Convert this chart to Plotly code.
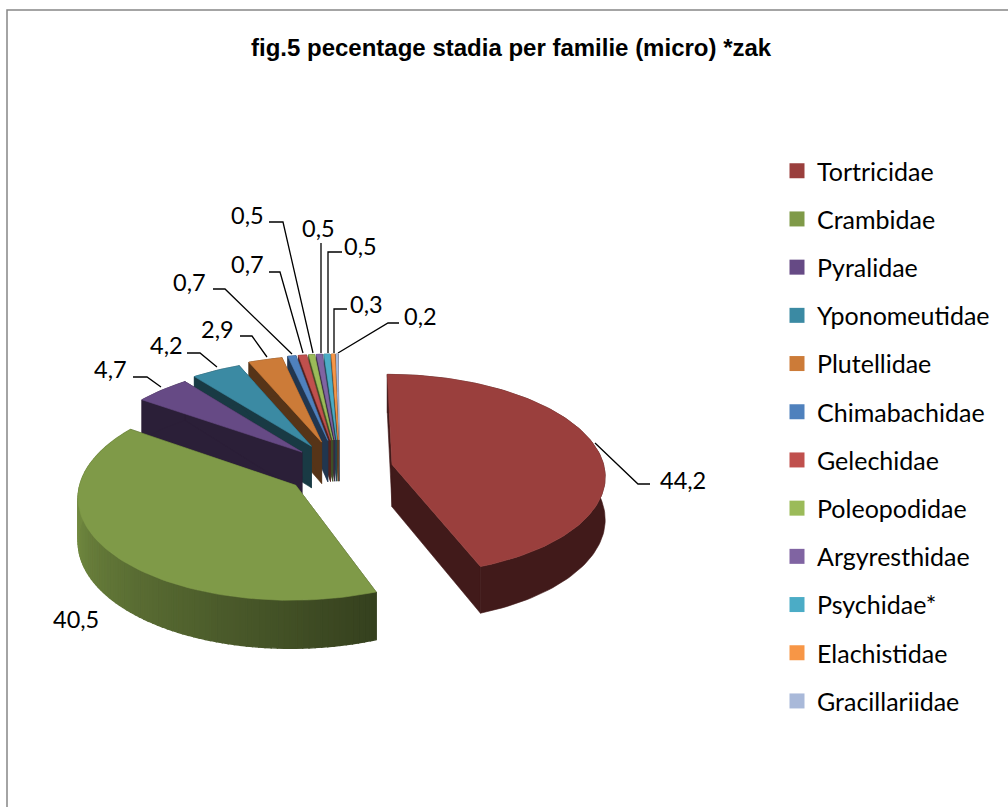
import numpy as np
import plotly.graph_objects as go

families = ["Tortricidae", "Crambidae", "Pyralidae", "Yponomeutidae", "Plutellidae", "Chimabachidae",
            "Gelechidae", "Poleopodidae", "Argyresthidae", "Psychidae*", "Elachistidae", "Gracillariidae"]
percentages = [44.2, 40.5, 4.7, 4.2, 2.9, 0.7, 0.7, 0.5, 0.5, 0.5, 0.3, 0.2]
value_labels = ["44,2", "40,5", "4,7", "4,2", "2,9", "0,7", "0,7", "0,5", "0,5", "0,5", "0,3", "0,2"]
title_text = "fig.5 pecentage stadia per familie (micro) *zak"

colors = ["#9A3F3D", "#7F9A48", "#664A85", "#3B8AA3", "#CC7B38", "#4F81BD",
          "#C0504D", "#9BBB59", "#8064A2", "#4BACC6", "#F79646", "#A9B9D9"]
explode = [0.25, 0.26, 0.25, 0.27, 0.29, 0.3, 0.3, 0.3, 0.3, 0.3, 0.3, 0.3]

# projection of the tilted disc (page pixels)
CX, CY, RX, RY, K, DEPTH = 340.0, 469.0, 212.5, 100.0, 0.1, 42.5


def project(u, v):
    p = 1.0 / (1.0 + K * v)
    return CX + RX * u * p, CY - RY * v * p, p


def shade(hex_color, f):
    r, g, b = (int(hex_color[i:i + 2], 16) for i in (1, 3, 5))
    return f"rgb({r * f:.0f},{g * f:.0f},{b * f:.0f})"


def poly(xs, ys, color, width=0.6):
    return go.Scatter(x=list(xs), y=list(ys), mode="lines", fill="toself", fillcolor=color,
                      line=dict(color=color, width=width), hoverinfo="skip", showlegend=False)


fig = go.Figure()
edges = np.concatenate([[0], np.cumsum(percentages)]) * 3.6
order = list(range(len(percentages) - 1, 1, -1)) + [0, 1]

for i in order:
    a0, a1 = np.radians(edges[i]), np.radians(edges[i + 1])
    mid = (a0 + a1) / 2
    off_u, off_v = explode[i] * np.sin(mid), explode[i] * np.cos(mid)
    n = max(int((edges[i + 1] - edges[i]) / 1.5), 2)
    th = np.linspace(a0, a1, n + 1)
    ax, ay, ap = project(off_u, off_v)
    ox, oy, op = project(off_u + np.sin(th), off_v + np.cos(th))
    base = colors[i]
    dark = shade(base, 0.42)
    # cut faces
    for j in (0, -1):
        fig.add_trace(poly([ax, ox[j], ox[j], ax, ax],
                           [ay, oy[j], oy[j] + DEPTH * op[j], ay + DEPTH * ap, ay], dark))
    # outer wall: graded strips on the big green slice, flat elsewhere
    if i == 1:
        for j in range(n):
            f = 0.42 + 0.46 * np.clip((np.degrees(th[j]) - 159) / 100, 0, 1)
            fig.add_trace(poly([ox[j], ox[j + 1], ox[j + 1], ox[j], ox[j]],
                               [oy[j], oy[j + 1], oy[j + 1] + DEPTH * op[j + 1], oy[j] + DEPTH * op[j], oy[j]],
                               shade(base, f), 1.4))
    else:
        fig.add_trace(poly(np.r_[ox, ox[::-1], ox[0]],
                           np.r_[oy, (oy + DEPTH * op)[::-1], oy[0]], dark))
    # top
    fig.add_trace(poly(np.r_[ax, ox, ax], np.r_[ay, oy, ay], base))

# leader lines and value labels (page pixels)
leaders = [
    [(650, 484), (638, 484), (595, 443)],
    None,
    [(133, 377), (147, 377), (161, 387)],
    [(187, 353), (200, 353), (217, 367)],
    [(240, 336), (252, 336), (267, 357)],
    [(213, 289), (225, 289), (292, 354)],
    [(269, 272), (280, 272), (303, 353)],
    [(269, 222), (283, 222), (313, 353)],
    [(321, 243), (321, 353)],
    [(342, 252), (328, 252), (328, 353)],
    [(347, 309), (334, 309), (334, 353)],
    [(399, 323), (388, 323), (338, 353)],
]
label_pos = [(683, 480), (76, 619), (110, 369), (166, 345), (217, 329), (189, 282),
             (247, 264), (247, 215), (318, 228), (360, 246), (366, 304), (420, 316)]

for pts in leaders:
    if pts:
        fig.add_trace(go.Scatter(x=[p[0] for p in pts], y=[p[1] for p in pts], mode="lines",
                                 line=dict(color="#000000", width=1.3), hoverinfo="skip", showlegend=False))

annotations = [dict(x=x, y=y, xref="x", yref="y", text=t, showarrow=False, xanchor="center", yanchor="middle",
                    font=dict(family="Lato", size=23.5, color="#000000"))
               for t, (x, y) in zip(value_labels, label_pos)]
annotations.append(dict(x=511, y=47, xref="x", yref="y", text=f"<b>{title_text}</b>", showarrow=False,
                        xanchor="center", yanchor="middle",
                        font=dict(family="Liberation Sans", size=24, color="#000000")))

# legend entries
for name, c in zip(families, colors):
    fig.add_trace(go.Scatter(x=[None], y=[None], mode="markers", name=name, legendgroup=name,
                             marker=dict(symbol="square", size=15, color=c)))

fig.update_layout(
    width=1008, height=807, margin=dict(l=0, r=0, t=0, b=0),
    paper_bgcolor="#FFFFFF", plot_bgcolor="#FFFFFF",
    xaxis=dict(range=[0, 1008], visible=False, fixedrange=True),
    yaxis=dict(range=[807, 0], visible=False, fixedrange=True),
    annotations=annotations,
    shapes=[dict(type="rect", xref="x", yref="y", x0=7, y0=10, x1=1030, y1=830,
                 line=dict(color="#868686", width=1.5))],
    legend=dict(x=777 / 1008, y=1 - 148 / 807, xanchor="left", yanchor="top", tracegroupgap=12.7,
                font=dict(family="Lato", size=25, color="#000000"), bgcolor="rgba(0,0,0,0)",
                itemclick=False, itemdoubleclick=False),
    showlegend=True,
)
fig.write_html("out.html", post_script="document.body.style.margin='0';",
               config={"displayModeBar": False})
